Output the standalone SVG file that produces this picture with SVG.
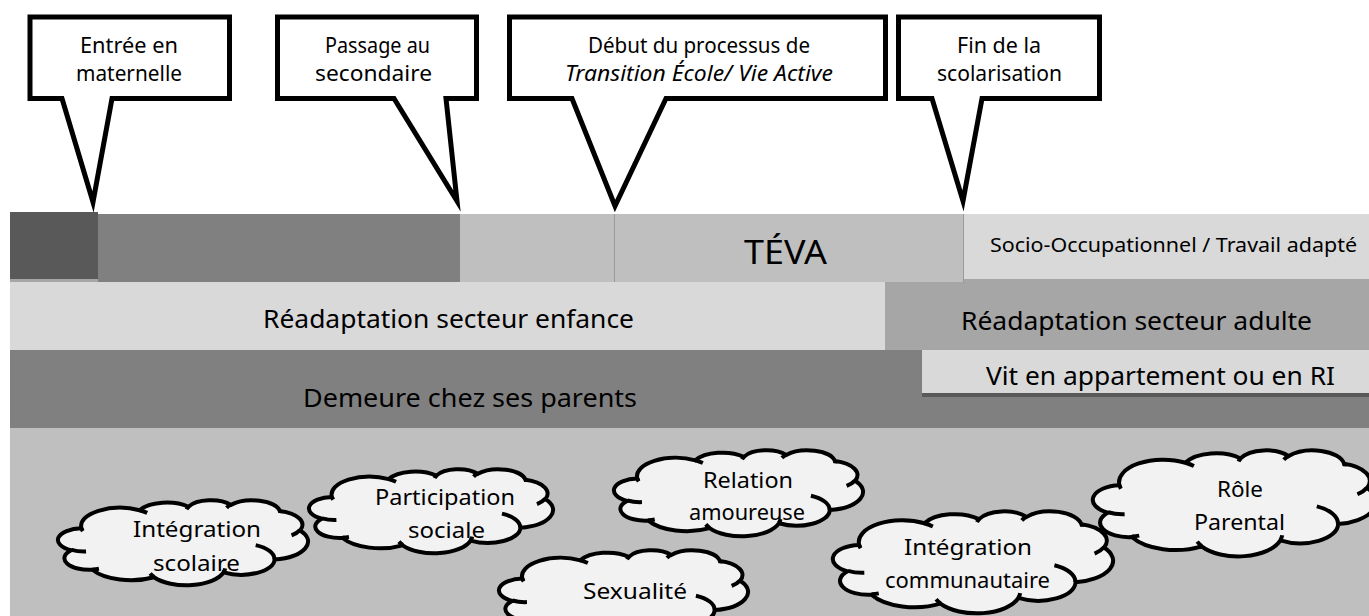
<svg xmlns="http://www.w3.org/2000/svg" xmlns:xlink="http://www.w3.org/1999/xlink" width="1369" height="616" viewBox="0 0 1369 616">
<style>
text{font-family:"Noto Sans","DejaVu Sans",sans-serif;fill:#000}
.co{font-size:21px}
.bt{font-size:26px}
.ct{font-size:21px}
.callout{fill:#fff;stroke:#000;stroke-width:5;stroke-linejoin:miter;stroke-miterlimit:12}
.cb{fill:#f2f2f2;stroke:#000;stroke-width:4}
.cw{fill:none;stroke:#000;stroke-width:4}
</style>
<defs>
<path id="cloudBody" vector-effect="non-scaling-stroke" d="M3900,14370 A6753,9190 0 0 1 14003,5199 A5333,7267 0 0 1 22454,3430 A4365,5945 0 0 1 29831,2479 A4857,6595 0 0 1 38315,5575 A5333,7273 0 0 1 41816,15459 A6775,9220 0 0 1 37400,30199 A5785,7867 0 0 1 28552,36810 A6752,9215 0 0 1 16478,39262 A7720,10543 0 0 1 5803,35469 A4360,5918 0 0 1 2111,25548 A4345,5945 0 0 1 3900,14370 Z"/>
<path id="cloudWr" vector-effect="non-scaling-stroke" d="M4693,26177 A4345,5945 0 0 1 2160,25379 M6928,34899 A4360,5918 0 0 1 5819,35281 M16478,39090 A6752,9215 0 0 1 15809,37347 M28827,34751 A6752,9215 0 0 1 28560,36661 M34129,22954 A5785,7867 0 0 1 37381,30089 M41798,15354 A5333,7273 0 0 1 40349,18031 M38324,5426 A4857,6595 0 0 1 38401,6690 M29078,3952 A4857,6595 0 0 1 29821,2339 M22141,4720 A4365,5945 0 0 1 22500,3330 M14000,5192 A6753,9190 0 0 1 15303,6544 M4127,15789 A6753,9190 0 0 1 3901,14373"/>
</defs>
<rect width="1369" height="616" fill="#fff"/>

<g id="domaines-de-vie">
<rect x="10" y="428" width="1359" height="188" fill="#bfbfbf"/>
</g>

<g id="demeure-parents">
<rect x="10" y="350" width="1359" height="78" fill="#808080"/>
<text class="bt" x="303" y="407" textLength="334" lengthAdjust="spacingAndGlyphs">Demeure chez ses parents</text>
</g>

<g id="vit-appartement">
<rect x="922" y="393" width="447" height="4" fill="#595959"/>
<rect x="922" y="350" width="447" height="43" fill="#d9d9d9"/>
<text class="bt" x="986" y="385" textLength="349" lengthAdjust="spacingAndGlyphs">Vit en appartement ou en RI</text>
</g>

<g id="readaptation-enfance">
<rect x="10" y="282" width="875" height="68" fill="#d9d9d9"/>
<text class="bt" x="263" y="328" textLength="371" lengthAdjust="spacingAndGlyphs">Réadaptation secteur enfance</text>
</g>

<g id="readaptation-adulte">
<rect x="885" y="279" width="484" height="71" fill="#a6a6a6"/>
<text class="bt" x="961" y="330" textLength="351" lengthAdjust="spacingAndGlyphs">Réadaptation secteur adulte</text>
</g>

<g id="parcours-scolaire">
<rect x="10" y="212" width="88" height="67" fill="#595959"/>
<rect x="10" y="279" width="88" height="3" fill="#a6a6a6"/>
<rect x="98" y="214" width="362" height="68" fill="#808080"/>
<rect x="460" y="214" width="503" height="68" fill="#bfbfbf"/>
<line x1="614.5" y1="214" x2="614.5" y2="282" stroke="#9a9a9a" stroke-width="1"/>
<text x="744" y="264" font-size="32" textLength="83" lengthAdjust="spacingAndGlyphs">TÉVA</text>
</g>

<g id="socio-occupationnel">
<rect x="963" y="214" width="406" height="65" fill="#d9d9d9"/>
<line x1="963.5" y1="214" x2="963.5" y2="283" stroke="#9a9a9a" stroke-width="1"/>
<text x="990" y="252" font-size="20" textLength="367" lengthAdjust="spacingAndGlyphs">Socio-Occupationnel / Travail adapté</text>
</g>

<g id="callout-maternelle">
<path class="callout" d="M30,17 H229.5 V98.5 H112 L93,202 L62,98.5 H30 Z"/>
<text class="co" x="80" y="53" textLength="98" lengthAdjust="spacingAndGlyphs">Entrée en</text>
<text class="co" x="76" y="81" textLength="106" lengthAdjust="spacingAndGlyphs">maternelle</text>
</g>

<g id="callout-secondaire">
<path class="callout" d="M277.5,17 H476.5 V98.5 H446 L457,201 L394,98.5 H277.5 Z"/>
<text class="co" x="325" y="53" textLength="105" lengthAdjust="spacingAndGlyphs">Passage au</text>
<text class="co" x="315" y="81" textLength="117" lengthAdjust="spacingAndGlyphs">secondaire</text>
</g>

<g id="callout-teva">
<path class="callout" d="M509.5,17 H885.5 V98.5 H666 L615,206 L572,98.5 H509.5 Z"/>
<text class="co" x="588" y="53" textLength="222" lengthAdjust="spacingAndGlyphs">Début du processus de</text>
<text class="co" x="565" y="81" font-style="italic" textLength="268" lengthAdjust="spacingAndGlyphs">Transition École/ Vie Active</text>
</g>

<g id="callout-fin-scolarisation">
<path class="callout" d="M898.5,17 H1099.5 V98.5 H982 L963,201 L932,98.5 H898.5 Z"/>
<text class="co" x="957" y="53" textLength="84" lengthAdjust="spacingAndGlyphs">Fin de la</text>
<text class="co" x="937" y="81" textLength="125" lengthAdjust="spacingAndGlyphs">scolarisation</text>
</g>

<g id="cloud-integration-scolaire">
<g transform="translate(59,500) scale(0.0057639,0.0019676)"><use xlink:href="#cloudBody" class="cb"/><use xlink:href="#cloudWr" class="cw"/></g>
<text class="ct" x="133" y="537" textLength="128" lengthAdjust="spacingAndGlyphs">Intégration</text>
<text class="ct" x="153" y="571" textLength="87" lengthAdjust="spacingAndGlyphs">scolaire</text>
</g>

<g id="cloud-participation-sociale">
<g transform="translate(310,469) scale(0.005625,0.0019444)"><use xlink:href="#cloudBody" class="cb"/><use xlink:href="#cloudWr" class="cw"/></g>
<text class="ct" x="375" y="505" textLength="140" lengthAdjust="spacingAndGlyphs">Participation</text>
<text class="ct" x="408" y="538" textLength="77" lengthAdjust="spacingAndGlyphs">sociale</text>
</g>

<g id="cloud-relation-amoureuse">
<g transform="translate(615,450) scale(0.0057407,0.0019907)"><use xlink:href="#cloudBody" class="cb"/><use xlink:href="#cloudWr" class="cw"/></g>
<text class="ct" x="703" y="488" textLength="90" lengthAdjust="spacingAndGlyphs">Relation</text>
<text class="ct" x="689" y="520" textLength="116" lengthAdjust="spacingAndGlyphs">amoureuse</text>
</g>

<g id="cloud-sexualite">
<g transform="translate(500,550) scale(0.0057407,0.0019907)"><use xlink:href="#cloudBody" class="cb"/><use xlink:href="#cloudWr" class="cw"/></g>
<text class="ct" x="583" y="599" textLength="104" lengthAdjust="spacingAndGlyphs">Sexualité</text>
</g>

<g id="cloud-integration-communautaire">
<g transform="translate(834,511) scale(0.0064583,0.0023611)"><use xlink:href="#cloudBody" class="cb"/><use xlink:href="#cloudWr" class="cw"/></g>
<text class="ct" x="904" y="555" textLength="128" lengthAdjust="spacingAndGlyphs">Intégration</text>
<text class="ct" x="885" y="588" textLength="165" lengthAdjust="spacingAndGlyphs">communautaire</text>
</g>

<g id="cloud-role-parental">
<g transform="translate(1094,450) scale(0.0065278,0.0024537)"><use xlink:href="#cloudBody" class="cb"/><use xlink:href="#cloudWr" class="cw"/></g>
<text class="ct" x="1217" y="497" textLength="46" lengthAdjust="spacingAndGlyphs">Rôle</text>
<text class="ct" x="1194" y="530" textLength="91" lengthAdjust="spacingAndGlyphs">Parental</text>
</g>
</svg>
